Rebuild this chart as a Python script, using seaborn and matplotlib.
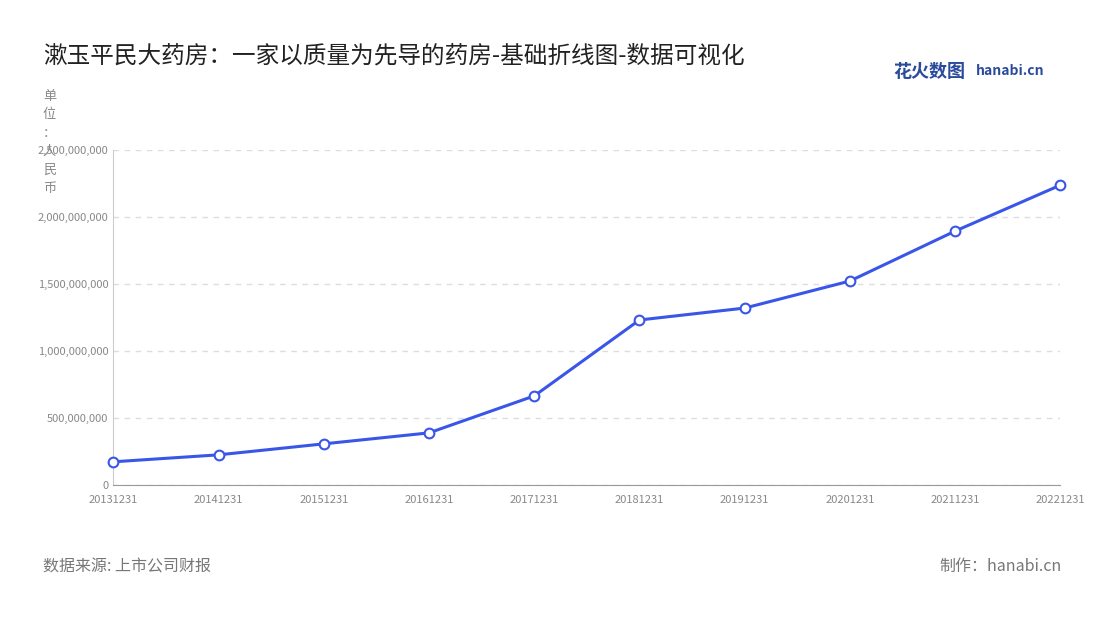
import numpy as np
import pandas as pd
import seaborn as sns
import matplotlib.pyplot as plt
from matplotlib.ticker import FuncFormatter

sns.set_style('white')
plt.rcParams['font.family'] = ['Noto Sans CJK SC', 'DejaVu Sans']

dates = ['20131231', '20141231', '20151231', '20161231', '20171231',
         '20181231', '20191231', '20201231', '20211231', '20221231']
revenue = [172e6, 224e6, 306e6, 388e6, 664e6, 1231e6, 1320e6, 1522e6, 1895e6, 2238e6]

df = pd.DataFrame({'date': dates, 'revenue': revenue})
df['idx'] = range(len(df))

fig = plt.figure(figsize=(11, 6.2), dpi=100)
ax = fig.add_axes([0.103, 0.218, 0.861, 0.54])
sns.lineplot(data=df, x='idx', y='revenue', ax=ax, color='#3a56e8', linewidth=2.2,
             marker='o', markersize=7, markerfacecolor='white',
             markeredgecolor='#3a56e8', markeredgewidth=1.5, clip_on=False, zorder=5)

ax.set_xlim(0, len(dates) - 1)
ax.set_ylim(0, 2.5e9)
ax.set_yticks(np.arange(0, 2.51e9, 5e8))
ax.yaxis.set_major_formatter(FuncFormatter(lambda v, p: f'{int(v):,}'))
ax.set_xticks(df['idx'])
ax.set_xticklabels(dates)
ax.tick_params(axis='both', labelsize=8, colors='#888888', length=4)
ax.tick_params(axis='y', length=0)
ax.grid(axis='y', linestyle=(0, (4, 4)), color='#dddddd', linewidth=1)
for s in ['top', 'right']:
    ax.spines[s].set_visible(False)
ax.spines['left'].set_color('#cccccc')
ax.spines['bottom'].set_color('#999999')
ax.set_xlabel('')
ax.set_ylabel('')

fig.text(0.039, 0.91, '漱玉平民大药房：一家以质量为先导的药房-基础折线图-数据可视化',
         fontsize=17, color='#222222', va='center')
fig.text(0.045, 0.855, '单\n位\n：\n人\n民\n币', fontsize=9.5, color='#888888',
         va='top', ha='center', linespacing=1.55)
fig.text(0.812, 0.884, '花火数图', fontsize=13, color='#2b4a9c', fontweight='bold', va='center')
fig.text(0.887, 0.886, 'hanabi.cn', fontsize=10, color='#2b4a9c', fontweight='bold', va='center')
fig.text(0.039, 0.086, '数据来源: 上市公司财报', fontsize=11.5, color='#777777', va='center')
fig.text(0.965, 0.086, '制作：hanabi.cn', fontsize=11.5, color='#777777', va='center', ha='right')

fig.savefig('out.png', dpi=100)
